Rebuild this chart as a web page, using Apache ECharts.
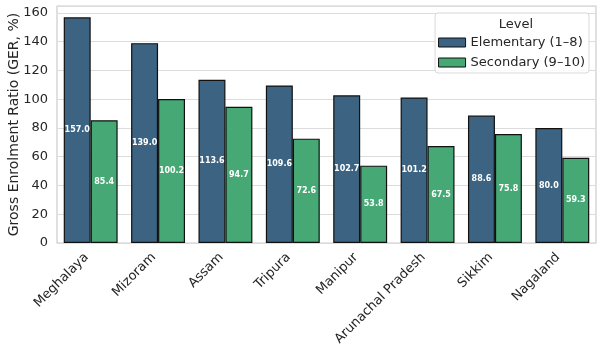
<!DOCTYPE html>
<html>
<head>
<meta charset="utf-8">
<script src="https://cdn.jsdelivr.net/npm/echarts@6/dist/echarts.min.js"></script>
<style>
  html, body { margin:0; padding:0; background:#fff; }
  #plot { width:602px; height:354px; }
</style>
</head>
<body>
<div id="plot"></div>
<script>
const states = ['Meghalaya', 'Mizoram', 'Assam', 'Tripura', 'Manipur', 'Arunachal Pradesh', 'Sikkim', 'Nagaland'];
const elementary = [157.0, 139.0, 113.6, 109.6, 102.7, 101.2, 88.6, 80.0];
const secondary = [85.4, 100.2, 94.7, 72.6, 53.8, 67.5, 75.8, 59.3];
const seriesNames = ['Elementary (1–8)', 'Secondary (9–10)'];
const yTicks = [0, 20, 40, 60, 80, 100, 120, 140, 160];

const font = 'DejaVu Sans';
const textCol = '#262626';
const gridCol = '#dcdcdc';
const colors = ['#3c6482', '#45a875'];

const chart = echarts.init(document.getElementById('plot'), null, { renderer:'canvas' });

function barSeries(name, data, color) {
  return {
    type:'bar', name, data,
    barGap:'0%', barCategoryGap:'20%',
    itemStyle:{ color, borderColor:'#111', borderWidth:1.2 },
    label:{ show:true, position:'inside', color:'#fff', fontFamily:font,
      fontWeight:'bold', fontSize:8, formatter: p => p.value.toFixed(1) },
    emphasis:{ disabled:true }
  };
}

chart.setOption({
  backgroundColor:'#fff',
  animation:false,
  textStyle:{ fontFamily:font },
  grid:{ left:57, right:6, top:6, bottom:111, outerBoundsMode:'none', containLabel:false,
    show:true, borderColor:'#cccccc', borderWidth:1.2 },
  title:{ text:'Level', left:511, top:13, textAlign:'center',
    textStyle:{ fontFamily:font, fontSize:13, fontWeight:'normal', color:textCol }, z:10 },
  legend:{
    orient:'vertical', right:13, top:13,
    padding:[23, 4, 4, 3],
    itemGap:7, itemWidth:27, itemHeight:9, icon:'rect',
    backgroundColor:'rgba(255,255,255,0.85)', borderColor:'#d9d9d9', borderWidth:1, borderRadius:3,
    textStyle:{ fontFamily:font, fontSize:13, color:textCol },
    itemStyle:{ borderColor:'#111', borderWidth:1 },
    data: seriesNames
  },
  xAxis:{
    type:'category', data:states,
    axisLine:{ show:false }, axisTick:{ show:false },
    axisLabel:{ rotate:45, color:textCol, fontSize:13, fontFamily:font, margin:8, interval:0,
      padding:[0, 6, 0, 0] }
  },
  yAxis:{
    type:'value', min:0, max:164.85, interval:20,
    name:'Gross Enrolment Ratio (GER, %)', nameLocation:'middle', nameGap:36, nameMoveOverlap:false,
    nameTextStyle:{ fontFamily:font, fontSize:14, color:textCol },
    axisLine:{ show:false }, axisTick:{ show:false },
    axisLabel:{ color:textCol, fontSize:13, fontFamily:font, margin:9,
      formatter: v => yTicks.includes(v) ? String(v) : '' },
    splitLine:{ lineStyle:{ color:gridCol, width:1.2 } }
  },
  series:[
    barSeries(seriesNames[0], elementary, colors[0]),
    barSeries(seriesNames[1], secondary, colors[1])
  ]
});
</script>
</body>
</html>
